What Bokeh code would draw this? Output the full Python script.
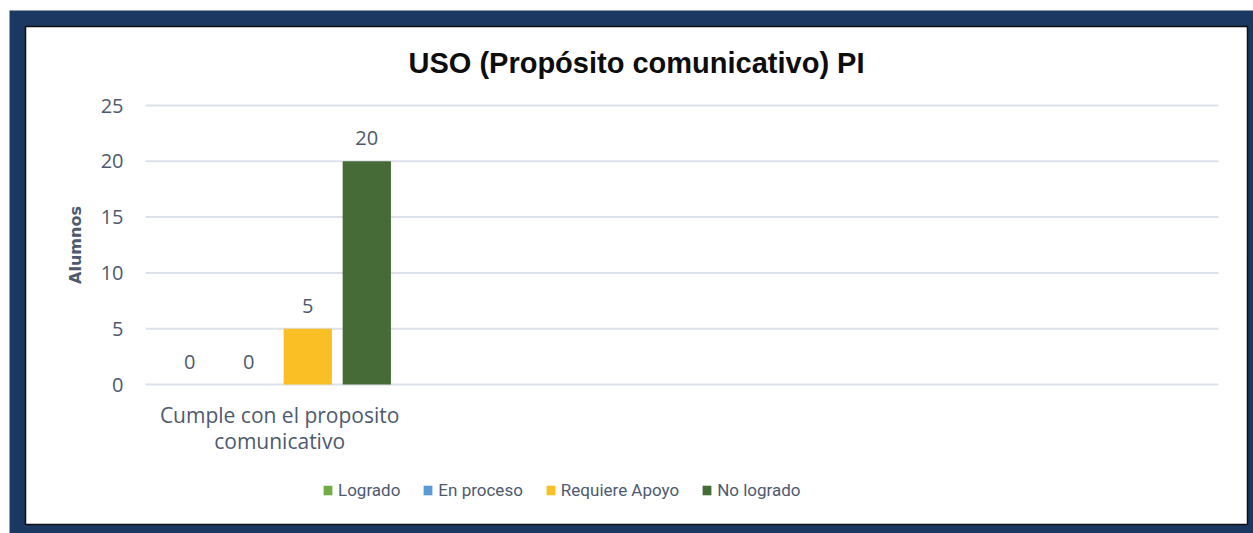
import math
from bokeh.plotting import figure
from bokeh.models import ColumnDataSource, LabelSet, Label, Legend, LegendItem, Range1d
from bokeh.core.properties import value
from bokeh.embed import file_html
from bokeh.resources import INLINE

# ---- data ----
chart_title = "USO (Propósito comunicativo) PI"
y_label = "Alumnos"
categories = ["Cumple con el proposito\ncomunicativo"]
series = ["Logrado", "En proceso", "Requiere Apoyo", "No logrado"]
values = [0, 0, 5, 20]
y_ticks = [0, 5, 10, 15, 20, 25]

# ---- styles / layout ----
bar_colors = ["#70ad47", "#5b9bd5", "#f9bf24", "#476b36"]
offsets = [-0.335, -0.115, 0.105, 0.325]
bar_w = 0.18
n_slots = 4
text_color = "#4d5a6e"
FONT = "Open Sans"
NAVY = "#1a3862"

# canvas geometry in pixels
W, H = 1253, 533
area_left, area_right = 145, 1218       # plotting area (x from 0 to n_slots)
area_zero, area_top = 384, 105          # y=0 and y=25 pixel rows
px_x = (area_right - area_left) / n_slots
px_y = (area_zero - area_top) / y_ticks[-1]
x0 = -area_left / px_x
x1 = x0 + W / px_x
y1 = area_zero / px_y
y0 = y1 - H / px_y


def dx(px):
    return x0 + px / px_x


def dy(py):
    return y1 - py / px_y


p = figure(width=W, height=H, output_backend="svg", toolbar_location=None, title=None,
           x_range=Range1d(x0, x1), y_range=Range1d(y0, y1),
           min_border_left=0, min_border_right=0, min_border_top=0, min_border_bottom=0,
           background_fill_color="white", border_fill_color="white")
p.outline_line_color = None
p.xaxis.visible = False
p.yaxis.visible = False
p.xgrid.visible = False
p.ygrid.visible = False

# navy frame and white panel
p.quad(left=[dx(9)], right=[dx(W + 2)], top=[dy(10)], bottom=[dy(H + 2)],
       fill_color=NAVY, line_color=None)
p.quad(left=[dx(25)], right=[dx(1247)], top=[dy(26)], bottom=[dy(524)],
       fill_color="white", line_color="#0e0e0e", line_width=1.5)

# gridlines
p.segment(x0=[0] * len(y_ticks), x1=[n_slots] * len(y_ticks), y0=y_ticks, y1=y_ticks,
          line_color="#dce1ea", line_width=2)

# y tick labels
tsrc = ColumnDataSource(dict(x=[0] * len(y_ticks), y=y_ticks, t=[str(t) for t in y_ticks]))
p.add_layout(LabelSet(x="x", y="y", text="t", source=tsrc, text_align="right",
                      text_baseline="middle", x_offset=-22, text_font=value(FONT),
                      text_font_size="20px", text_color=text_color))

# y axis title
p.add_layout(Label(x=0, y=(y_ticks[0] + y_ticks[-1]) / 2, text=y_label, angle=math.pi / 2,
                   x_offset=-70, text_align="center", text_baseline="middle",
                   text_font="DejaVu Sans", text_font_size="16px", text_font_style="bold",
                   text_color=text_color))

# chart title
p.add_layout(Label(x=dx(636), y=dy(62), text=chart_title,
                   text_align="center", text_baseline="middle",
                   text_font="Liberation Sans", text_font_size="29px", text_font_style="bold",
                   text_color="#0d0d0d"))

# category labels (below bars)
for ci, cat in enumerate(categories):
    for li, line in enumerate(cat.split("\n")):
        p.add_layout(Label(x=ci + 0.5, y=0, text=line, y_offset=-30 - 26 * li,
                           text_align="center", text_baseline="middle", text_font=FONT,
                           text_font_size="21px", text_color=text_color))

items = []
lx, ly, lt = [], [], []
for i, (name, val, col, off) in enumerate(zip(series, values, bar_colors, offsets)):
    xs = [ci + 0.5 + off for ci in range(len(categories))]
    src = ColumnDataSource(dict(x=xs, top=[val]))
    r = p.vbar(x="x", top="top", width=bar_w, source=src, fill_color=col, line_color=None)
    items.append(LegendItem(label=name, renderers=[r]))
    lx += xs
    ly.append(val)
    lt.append(str(val))

lsrc = ColumnDataSource(dict(x=lx, y=ly, t=lt))
p.add_layout(LabelSet(x="x", y="y", text="t", source=lsrc, text_align="center",
                      text_baseline="middle", y_offset=23, text_font=value(FONT),
                      text_font_size="20px", text_color=text_color))

legend = Legend(items=items, orientation="horizontal", location=(322, 33),
                label_text_font="Roboto", label_text_font_size="17px", label_text_color=text_color,
                glyph_width=11, glyph_height=12, label_standoff=5, spacing=22,
                border_line_color=None, background_fill_alpha=0, margin=0, padding=0)
p.add_layout(legend, "center")

open("out.html", "w").write(file_html(p, INLINE))
